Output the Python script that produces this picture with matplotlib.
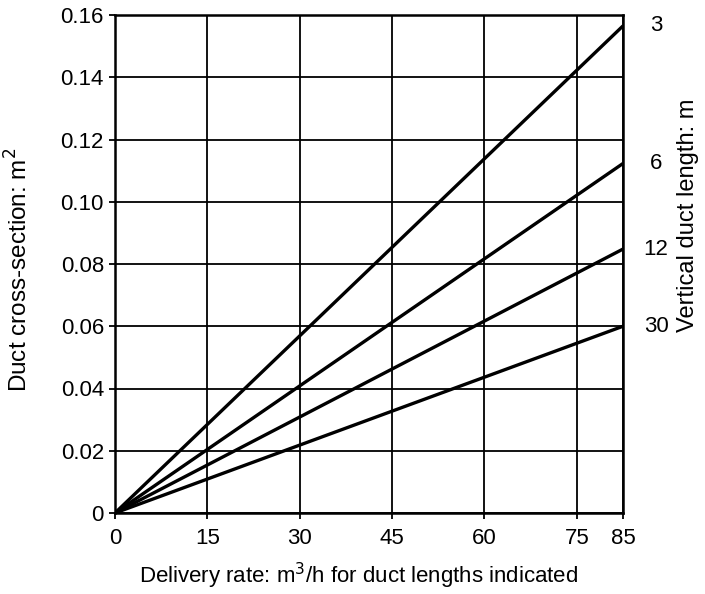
import numpy as np
import matplotlib.pyplot as plt

plt.rcParams['font.family'] = ['Liberation Sans', 'DejaVu Sans']

# Duct lengths (m) and cross-section at the right edge (m2 at 85 m3/h)
duct_lengths = ["3", "6", "12", "30"]
rate_end = 85
section_end = [0.1565, 0.1123, 0.0848, 0.0600]

x_ticks = [0, 15, 30, 45, 60, 75, 85]
y_ticks = [0, 0.02, 0.04, 0.06, 0.08, 0.10, 0.12, 0.14, 0.16]
y_labels = ["0", "0.02", "0.04", "0.06", "0.08", "0.10", "0.12", "0.14", "0.16"]


# The last column (75-85) is drawn about half a cell wide in the original
def fwd(x):
    x = np.asarray(x, dtype=float)
    return np.where(x <= 75, x, 75 + (x - 75) * 0.75)

def inv(x):
    x = np.asarray(x, dtype=float)
    return np.where(x <= 75, x, 75 + (x - 75) / 0.75)


fig = plt.figure(figsize=(7.05, 5.94), dpi=100)
ax = fig.add_axes([115/705, 1 - 513/594, 508/705, 498/594])
ax.set_xscale('function', functions=(fwd, inv))

for lab, y_end in zip(duct_lengths, section_end):
    ax.plot([0, rate_end], [0, y_end], color='black', lw=2.4, solid_capstyle='butt')
    ax.text(1.065, y_end, lab, transform=ax.get_yaxis_transform(),
            ha='center', va='center', fontsize=16)

ax.set_xlim(0, 85)
ax.set_ylim(0, 0.16)
ax.set_xticks(x_ticks)
ax.set_xticklabels([str(t) for t in x_ticks])
ax.set_yticks(y_ticks)
ax.set_yticklabels(y_labels)
ax.grid(True, color='black', lw=1.3)
ax.tick_params(axis='both', labelsize=16, length=4, width=1.3, color='black', pad=4)
ax.tick_params(axis='x', pad=7)
for s in ax.spines.values():
    s.set_linewidth(1.8)

fig.text(19/705, 1 - 270/594, "Duct cross-section: m$^2$", rotation=90,
         ha='center', va='center', fontsize=17.5)
fig.text(359/705, 1 - 576/594, "Delivery rate: m$^3$/h for duct lengths indicated",
         ha='center', va='center', fontsize=16)
fig.text(688/705, 1 - 215/594, "Vertical duct length: m", rotation=90,
         ha='center', va='center', fontsize=17)

fig.savefig("out.png", dpi=100)
